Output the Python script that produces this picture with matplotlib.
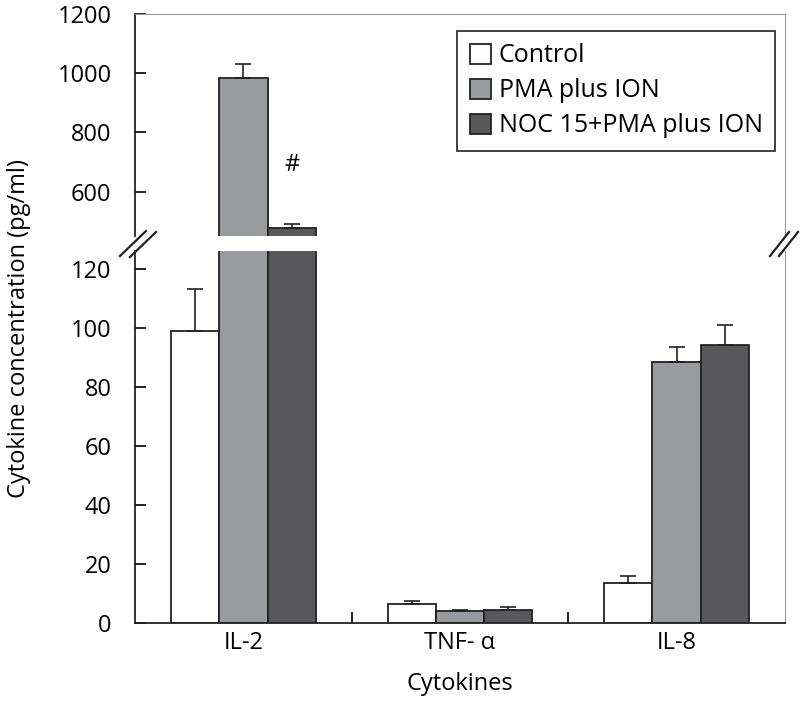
import numpy as np
import matplotlib
matplotlib.use('Agg')
import matplotlib.pyplot as plt
from matplotlib.lines import Line2D

CATEGORIES = ['IL-2', 'TNF- α', 'IL-8']
SERIES = ['Control', 'PMA plus ION', 'NOC 15+PMA plus ION']
CONTROL = [99, 6.5, 13.5]
CONTROL_ERR = [14, 1.0, 2.5]
PMA = [985, 4.0, 88.5]
PMA_ERR = [45, 0.5, 5.0]
NOC = [478, 4.5, 94]
NOC_ERR = [12, 1.0, 7.0]

COLORS = ['white', '#9a9b9f', '#58585a']

plt.rcParams.update({
    'font.family': ['Open Sans', 'DejaVu Sans'],
    'font.size': 16,
})

fig = plt.figure(figsize=(8, 7.06), dpi=100)
ax_top = fig.add_axes([0.169, 0.6657, 0.812, 0.3143])
ax_bot = fig.add_axes([0.169, 0.1176, 0.812, 0.5269])

x = np.arange(len(CATEGORIES))
width = 0.222
offsets = [-width, 0, width]
values = [CONTROL, PMA, NOC]
errs = [CONTROL_ERR, PMA_ERR, NOC_ERR]

for ax in (ax_top, ax_bot):
    for off, vals, err, col, lab in zip(offsets, values, errs, COLORS, SERIES):
        ax.bar(x + off, vals, width, color=col, edgecolor='#222222', lw=1.3,
               label=lab, zorder=2)
        ax.errorbar(x + off, vals, yerr=[np.zeros(len(vals)), err], fmt='none',
                    ecolor='#222222', elinewidth=1.2, capsize=6, capthick=1.2,
                    zorder=3)
    ax.set_xlim(-0.5, 2.5)
    ax.tick_params(axis='y', direction='in', length=8, width=1.2, labelsize=17,
                   pad=17)

ax_top.set_ylim(450, 1200)
ax_top.set_yticks([600, 800, 1000, 1200])
ax_bot.set_ylim(0, 126)
ax_bot.set_yticks(range(0, 121, 20))

ax_top.spines['bottom'].set_visible(False)
ax_top.set_xticks([])
ax_top.spines['top'].set_color('#999999')
ax_top.spines['right'].set_color('#999999')
ax_bot.spines['top'].set_visible(False)
ax_bot.spines['right'].set_color('#999999')
for ax in (ax_top, ax_bot):
    ax.spines['left'].set_linewidth(1.3)
    ax.spines['left'].set_color('#222222')
ax_bot.spines['bottom'].set_linewidth(1.3)
ax_bot.spines['bottom'].set_color('#222222')

ax_bot.set_xticks(x)
ax_bot.set_xticklabels(CATEGORIES, fontsize=17)
ax_bot.tick_params(axis='x', length=0, pad=6)
ax_bot.set_xticks([0.5, 1.5], minor=True)
ax_bot.tick_params(axis='x', which='minor', direction='in', length=8, width=1.2)
ax_bot.set_xlabel('Cytokines', fontsize=17, labelpad=12)

ax_top.text(x[0] + width, 690, '#', ha='center', va='center', fontsize=17)

fig.text(0.024, 0.535, 'Cytokine concentration (pg/ml)', rotation=90,
         ha='center', va='center', fontsize=17)

leg = ax_top.legend(loc='upper right', bbox_to_anchor=(0.985, 0.925),
                    fontsize=18, frameon=True, fancybox=False, framealpha=1,
                    edgecolor='#222222', handlelength=0.85, handleheight=0.85,
                    handletextpad=0.3, borderpad=0.5, labelspacing=0.4,
                    borderaxespad=0)
leg.get_frame().set_linewidth(1.2)

# axis break marks
W, H = 800, 706
def slash(x0, y0, x1, y1):
    fig.add_artist(Line2D([x0 / W, x1 / W], [1 - y0 / H, 1 - y1 / H],
                          color='#222222', lw=1.6))

slash(120, 256, 146, 231)
slash(130, 257, 156, 232)
slash(770, 256, 789, 232)
slash(779, 256, 798, 232)

fig.savefig('out.png', dpi=100)
